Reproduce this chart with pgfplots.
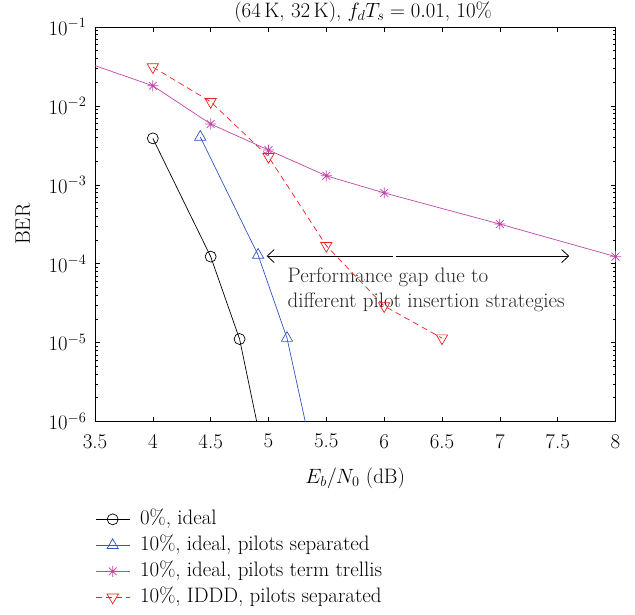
\documentclass[border=0pt]{standalone}
\usepackage{pgfplots}
\pgfplotsset{compat=1.18}
\usetikzlibrary{arrows.meta}

\definecolor{cblue}{RGB}{50,85,190}
\definecolor{cmag}{RGB}{190,70,170}
\definecolor{cred}{RGB}{240,30,30}

\newcommand\bigfont{\fontsize{21}{25}\selectfont}

% eight-armed asterisk
\pgfdeclareplotmark{mstar}{%
  \pgfpathmoveto{\pgfqpoint{-\pgfplotmarksize}{0pt}}%
  \pgfpathlineto{\pgfqpoint{\pgfplotmarksize}{0pt}}%
  \pgfpathmoveto{\pgfqpoint{0pt}{-\pgfplotmarksize}}%
  \pgfpathlineto{\pgfqpoint{0pt}{\pgfplotmarksize}}%
  \pgfpathmoveto{\pgfqpoint{-0.7071\pgfplotmarksize}{-0.7071\pgfplotmarksize}}%
  \pgfpathlineto{\pgfqpoint{0.7071\pgfplotmarksize}{0.7071\pgfplotmarksize}}%
  \pgfpathmoveto{\pgfqpoint{-0.7071\pgfplotmarksize}{0.7071\pgfplotmarksize}}%
  \pgfpathlineto{\pgfqpoint{0.7071\pgfplotmarksize}{-0.7071\pgfplotmarksize}}%
  \pgfusepathqstroke}

\begin{document}
\begin{tikzpicture}
\path[use as bounding box] (-95bp,-193.5bp) rectangle (540bp,421.5bp);
\begin{axis}[
  at={(0,0)}, anchor=south west,
  scale only axis, width=520.5bp, height=394.5bp,
  ymode=log, xmin=3.5, xmax=8, ymin=1e-6, ymax=1e-1,
  xtick={3.5,4,4.5,5,5.5,6,6.5,7,7.5,8},
  xticklabels={3.5,4,4.5,5,5.5,6,6.5,7,7.5,8},
  ytick={1e-6,1e-5,1e-4,1e-3,1e-2,1e-1},
  tick align=inside,
  major tick length=5bp, minor tick length=3bp,
  every tick/.style={black, line width=0.6bp},
  axis line style={line width=0.8bp},
  tick label style={font=\bigfont},
  label style={font=\bigfont},
  title={(64\,K, 32\,K), $f_d T_s = 0.01$, 10\%},
  title style={at={(0.515,1)}, anchor=base, yshift=3.5bp, font=\bigfont},
  xlabel={$E_b/N_0$ (dB)},
  ylabel={BER},
  xlabel style={at={(axis description cs:0.5,0)}, anchor=base, yshift=-62bp},
  ylabel style={at={(axis description cs:-0.1383,0.5)}, anchor=center},
  xticklabel style={yshift=-9bp},
  yticklabel style={xshift=-5bp},
  legend style={at={(axis description cs:0,-0.2243)}, anchor=north west,
    draw=none, fill=none, font=\bigfont, inner sep=0pt,
    row sep=8bp, column sep=10bp,
    nodes={inner sep=0pt, text height=14bp, text depth=4bp}},
  legend cell align=left,
  legend image code/.code={%
    \draw[#1, mark indices={2}] plot coordinates {(0bp,0bp) (17bp,0bp) (34bp,0bp)};},
  line width=0.7bp,
]

\addplot[black, mark=o, mark size=5.5bp, mark options={solid}, mark indices={1,2,3}]
  coordinates {(4,3.88e-3) (4.5,1.23e-4) (4.75,1.11e-5) (5,1.9e-7)};
\addlegendentry{0\%, ideal}

\addplot[cblue, mark=triangle, mark size=6.5bp, mark options={solid}, mark indices={1,2,3}]
  coordinates {(4.41,4.04e-3) (4.91,1.29e-4) (5.16,1.14e-5) (5.41,2.4e-7)};
\addlegendentry{10\%, ideal, pilots separated}

\addplot[cmag, mark=mstar, mark size=5.5bp, mark options={solid}, mark indices={2,3,4,5,6,7,8}]
  coordinates {(3.5,3.24e-2) (4,1.80e-2) (4.5,5.9e-3) (5,2.76e-3) (5.5,1.30e-3)
               (6,7.9e-4) (7,3.18e-4) (8,1.23e-4)};
\addlegendentry{10\%, ideal, pilots term trellis}

\addplot[cred, dash pattern=on 6bp off 4bp, mark=triangle, mark size=6.5bp,
         mark options={solid, rotate=180}]
  coordinates {(4,3.11e-2) (4.5,1.13e-2) (5,2.27e-3) (5.5,1.69e-4) (6,2.91e-5) (6.5,1.14e-5)};
\addlegendentry{10\%, IDDD, pilots separated}

% annotation: arrows showing the gap
\draw[black, line width=0.8bp, -{Straight Barb[length=7bp,width=13bp]}]
  (axis cs:6.077,1.25e-4) -- (axis cs:4.984,1.25e-4);
\draw[black, line width=0.8bp, -{Straight Barb[length=7bp,width=13bp]}]
  (axis cs:6.10,1.25e-4) -- (axis cs:7.60,1.25e-4);
\node[anchor=north west, inner sep=0pt, align=left, font=\bigfont, text=black!85]
  at (axis cs:5.163,9.0e-5) {Performance gap due to\\different pilot insertion strategies};
\end{axis}
\end{tikzpicture}
\end{document}
